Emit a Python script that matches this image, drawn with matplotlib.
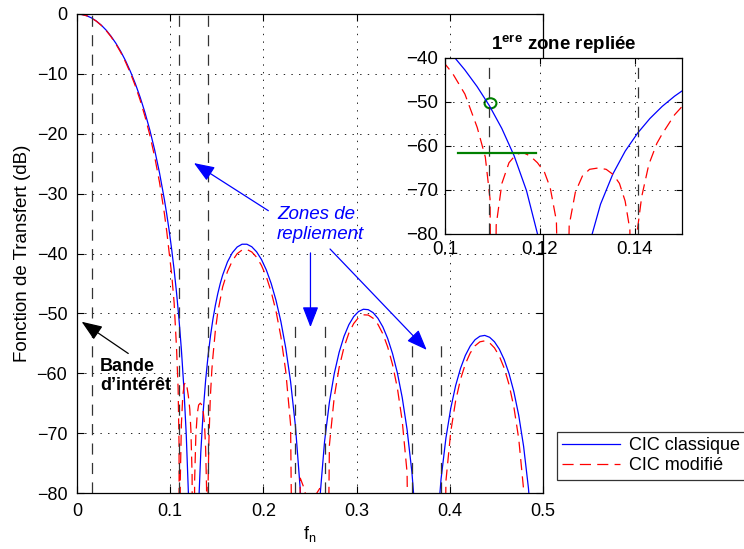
import matplotlib
matplotlib.use("Agg")
import matplotlib.pyplot as plt
from matplotlib.patches import Ellipse
from matplotlib.lines import Line2D

plt.rcParams['font.family'] = ['Liberation Sans', 'DejaVu Sans']
plt.rcParams['mathtext.fontset'] = 'custom'
plt.rcParams['mathtext.rm'] = 'Liberation Sans'
plt.rcParams['mathtext.bf'] = 'Liberation Sans:bold'
plt.rcParams['lines.scale_dashes'] = False

# ---- data ----
# CIC classique (dB), -150 = null below the axis
freq_classic = [0, 0.00521, 0.01042, 0.01563, 0.02083, 0.02604, 0.03125, 0.03646, 0.04167,
                0.04688, 0.05208, 0.05729, 0.0625, 0.06771, 0.07292, 0.07813, 0.08333, 0.08854,
                0.09375, 0.09635, 0.09896, 0.10156, 0.10417, 0.10677, 0.10938, 0.11198, 0.11458,
                0.11719, 0.11979, 0.1224, 0.125, 0.1276, 0.13021, 0.13281, 0.13542, 0.13802,
                0.14063, 0.14323, 0.14583, 0.14844, 0.15104, 0.15365, 0.15625,
                0.16146, 0.16667, 0.17188, 0.17708, 0.18229, 0.1875, 0.19271, 0.19792, 0.20313,
                0.20833, 0.21354, 0.21875, 0.22396, 0.22917, 0.23438, 0.23958, 0.24479, 0.25,
                0.25521, 0.26042, 0.26563, 0.27083, 0.27604, 0.28125, 0.28646, 0.29167, 0.29688,
                0.30208, 0.30729, 0.3125, 0.31771, 0.32292, 0.32813, 0.33333, 0.33854, 0.34375,
                0.34896, 0.35417, 0.35938, 0.36458, 0.36979, 0.375, 0.38021, 0.38542, 0.39063,
                0.39583, 0.40104, 0.40625, 0.41146, 0.41667, 0.42188, 0.42708, 0.43229, 0.4375,
                0.44271, 0.44792, 0.45313, 0.45833, 0.46354, 0.46875, 0.47396, 0.47917, 0.48438,
                0.48958, 0.49479, 0.5]
db_classic = [0, -0.08, -0.29, -0.66, -1.19, -1.86, -2.69, -3.70, -4.88,
              -6.24, -7.80, -9.59, -11.60, -13.88, -16.46, -19.38, -22.71, -26.54,
              -30.98, -33.50, -36.25, -39.29, -42.68, -46.49, -50.87, -56.00, -62.22,
              -70.14, -81.16, -99.70, -150, -100.73, -83.22, -73.23, -66.35, -61.16,
              -57.08, -53.75, -50.99, -48.67, -46.71, -45.04, -43.62,
              -41.40, -39.87, -38.91, -38.45, -38.45, -38.87, -39.72, -41.00, -42.75,
              -45.00, -47.83, -51.36, -55.77, -61.40, -68.84, -79.49, -97.78, -150,
              -98.63, -81.20, -71.40, -64.82, -60.05, -56.51, -53.85, -51.90, -50.54,
              -49.69, -49.31, -49.38, -49.88, -50.83, -52.25, -54.18, -56.71, -59.94,
              -64.07, -69.41, -76.58, -86.97, -105.0, -150, -105.35, -87.68, -77.65,
              -70.83, -65.84, -62.07, -59.20, -57.03, -55.46, -54.40, -53.82, -53.68,
              -53.99, -54.74, -55.97, -57.71, -60.05, -63.09, -67.03, -72.19, -79.18,
              -89.39, -107.24, -150]

# CIC modifie (dB)
freq_modified = [0, 0.00521, 0.01042, 0.01563, 0.02083, 0.02604, 0.03125, 0.03646, 0.04167,
                 0.04688, 0.05208, 0.05729, 0.0625, 0.06771, 0.07292, 0.07813, 0.08333, 0.08854,
                 0.09375, 0.09635, 0.09896, 0.1016, 0.1042, 0.1068, 0.1085, 0.1095, 0.1101,
                 0.1108, 0.112, 0.1135, 0.115, 0.1165, 0.118, 0.1195, 0.121, 0.1222, 0.1235,
                 0.125, 0.1262, 0.1275, 0.129, 0.1305, 0.1323, 0.134, 0.1355, 0.1368, 0.138,
                 0.139, 0.1398, 0.1406, 0.1415, 0.143, 0.1447, 0.1458, 0.14844, 0.15104,
                 0.15625, 0.16146, 0.16667, 0.17188, 0.17708, 0.18229, 0.1875, 0.19271, 0.19792,
                 0.20313, 0.20833, 0.21354, 0.21875, 0.22396, 0.22917, 0.23438, 0.23958, 0.24479,
                 0.25, 0.25521, 0.26042, 0.26563, 0.27083, 0.27604, 0.28125, 0.28646, 0.29167,
                 0.29688, 0.30208, 0.30729, 0.3125, 0.31771, 0.32292, 0.32813, 0.33333, 0.33854,
                 0.34375, 0.34896, 0.35417, 0.35938, 0.36458, 0.36979, 0.375, 0.38021, 0.38542,
                 0.39063, 0.39583, 0.40104, 0.40625, 0.41146, 0.41667, 0.42188, 0.42708, 0.43229,
                 0.4375, 0.44271, 0.44792, 0.45313, 0.45833, 0.46354, 0.46875, 0.47396, 0.47917,
                 0.48438, 0.48958, 0.49479, 0.5]
db_modified = [0, -0.08, -0.30, -0.68, -1.21, -1.90, -2.76, -3.79, -5.00,
               -6.40, -8.02, -9.86, -11.97, -14.36, -17.09, -20.21, -23.84, -28.12,
               -33.30, -36.39, -39.95, -43.5, -48.2, -55.8, -62.5, -72.0, -150,
               -78.0, -68.5, -63.8, -61.9, -61.5, -62.3, -63.8, -66.0, -69.5, -77.0,
               -150, -78.0, -70.5, -66.8, -65.3, -65.0, -65.3, -66.5, -68.5, -72.5,
               -79.0, -150, -79.0, -71.5, -64.2, -59.4, -57.3, -52.9, -49.8,
               -45.6, -43.0, -41.23, -40.03, -39.42, -39.33, -39.74, -40.62, -41.99,
               -43.88, -46.39, -49.64, -53.87, -59.65, -68.56, -150, -77.52, -79.68,
               -150, -80.54, -79.24, -150, -71.99, -63.94, -59.04, -55.68, -53.31,
               -51.70, -50.70, -50.24, -50.28, -50.81, -51.84, -53.41, -55.60, -58.54,
               -62.48, -67.97, -76.60, -150, -85.02, -86.92, -150, -87.28, -85.73,
               -150, -78.02, -69.74, -64.61, -61.03, -58.45, -56.63, -55.42, -54.75,
               -54.59, -54.92, -55.76, -57.14, -59.13, -61.88, -65.64, -70.94, -79.39,
               -150, -87.45, -89.17, -150]

# dashed markers: band of interest edge and aliasing zone edges
band_edges = [0.015625, 0.109375, 0.140625, 0.234375, 0.265625, 0.359375, 0.390625]
band_tops = [0, 0, 0, -51, -51, -55, -55]

# green marks in the zoom
circle_pt = (0.1096, -50.3)
spec_level = -61.6
spec_from, spec_to = 0.1028, 0.1193

BLUE = '#0000ff'
RED = '#ff0000'
GREEN = '#008000'
GRID = dict(color='k', linestyle=(0, (1, 4.5)), linewidth=0.6)


def draw_curves(ax):
    ax.plot(freq_classic, db_classic, color=BLUE, lw=0.9)
    ax.plot(freq_modified, db_modified, color=RED, lw=0.9, dashes=(8, 4.5))
    for x, top in zip(band_edges, band_tops):
        ax.plot([x, x], [-80, top], color='0.2', lw=0.9, dashes=(8, 6))


fig = plt.figure(figsize=(7.44, 5.49), dpi=100)

# main axes
ax = fig.add_axes([77 / 744, 56 / 549, 466 / 744, 479 / 549])
draw_curves(ax)
ax.set_xlim(0, 0.5)
ax.set_ylim(-80, 0)
ax.set_xticks([0, 0.1, 0.2, 0.3, 0.4, 0.5])
ax.set_xticklabels(['0', '0.1', '0.2', '0.3', '0.4', '0.5'])
ax.set_yticks(range(-80, 1, 10))
ax.grid(True, **GRID)
ax.tick_params(direction='in', length=5, width=0.8, labelsize=13, top=True, right=True, pad=7)
for s in ax.spines.values():
    s.set_linewidth(0.9)
ax.set_xlabel(r'f$_\mathregular{n}$', fontsize=13, labelpad=3)
ax.set_ylabel('Fonction de Transfert (dB)', fontsize=13.5, labelpad=4)

# annotations
arrow_b = dict(arrowstyle='-|>,head_length=0.9,head_width=0.35', color=BLUE, lw=0.9,
               shrinkA=0, shrinkB=0, mutation_scale=14)
ax.annotate('', xy=(0.1255, -24.9), xytext=(0.2053, -32.85), arrowprops=arrow_b)
ax.annotate('', xy=(0.2505, -52.3), xytext=(0.2505, -39.9), arrowprops=arrow_b)
ax.annotate('', xy=(0.3752, -56.1), xytext=(0.2715, -39.25), arrowprops=arrow_b)
ax.text(0.2146, -35.1, 'Zones de\nrepliement', color=BLUE, style='italic', fontsize=13.5,
        ha='left', va='center', linespacing=1.25)

arrow_k = dict(arrowstyle='-|>,head_length=0.9,head_width=0.35', color='k', lw=0.9,
               shrinkA=0, shrinkB=0, mutation_scale=14)
ax.annotate('', xy=(0.005, -51.4), xytext=(0.055, -56.7), arrowprops=arrow_k)
ax.text(0.0247, -60.5, 'Bande\nd\u2019intérêt', color='k', fontweight='bold', fontsize=13,
        ha='left', va='center', linespacing=1.15)

# zoom on the first aliasing zone
ax2 = fig.add_axes([445 / 744, 315 / 549, 237 / 744, 176 / 549])
draw_curves(ax2)
ax2.plot([spec_from, spec_to], [spec_level, spec_level], color=GREEN, lw=1.6)
ax2.add_patch(Ellipse(circle_pt, 0.0025, 2.3, fill=False, edgecolor=GREEN, lw=1.5))
ax2.set_xlim(0.1, 0.15)
ax2.set_ylim(-80, -40)
ax2.set_xticks([0.1, 0.12, 0.14])
ax2.set_xticklabels(['0.1', '0.12', '0.14'])
ax2.set_yticks(range(-80, -39, 10))
ax2.grid(True, **GRID)
ax2.tick_params(direction='in', length=4, width=0.8, labelsize=13.5, top=True, right=True, pad=5)
for s in ax2.spines.values():
    s.set_linewidth(0.9)
ax2.set_title(r'$\mathbf{1^{ere}}$ zone repliée', fontsize=13.5, fontweight='bold', pad=6)

# legend (runs off the right edge like the original)
handles = [Line2D([], [], color=BLUE, lw=0.9),
           Line2D([], [], color=RED, lw=0.9, dashes=(8, 4.5))]
leg = fig.legend(handles, ['CIC classique', 'CIC modifié'], loc='upper left',
                 bbox_to_anchor=(557 / 744, 1 - 432 / 549), fontsize=13, frameon=True,
                 fancybox=False, edgecolor='k', handlelength=3.2, borderaxespad=0,
                 borderpad=0.3, labelspacing=0.15, handletextpad=0.5)
leg.get_frame().set_linewidth(0.9)

fig.savefig('out.png', dpi=100)
